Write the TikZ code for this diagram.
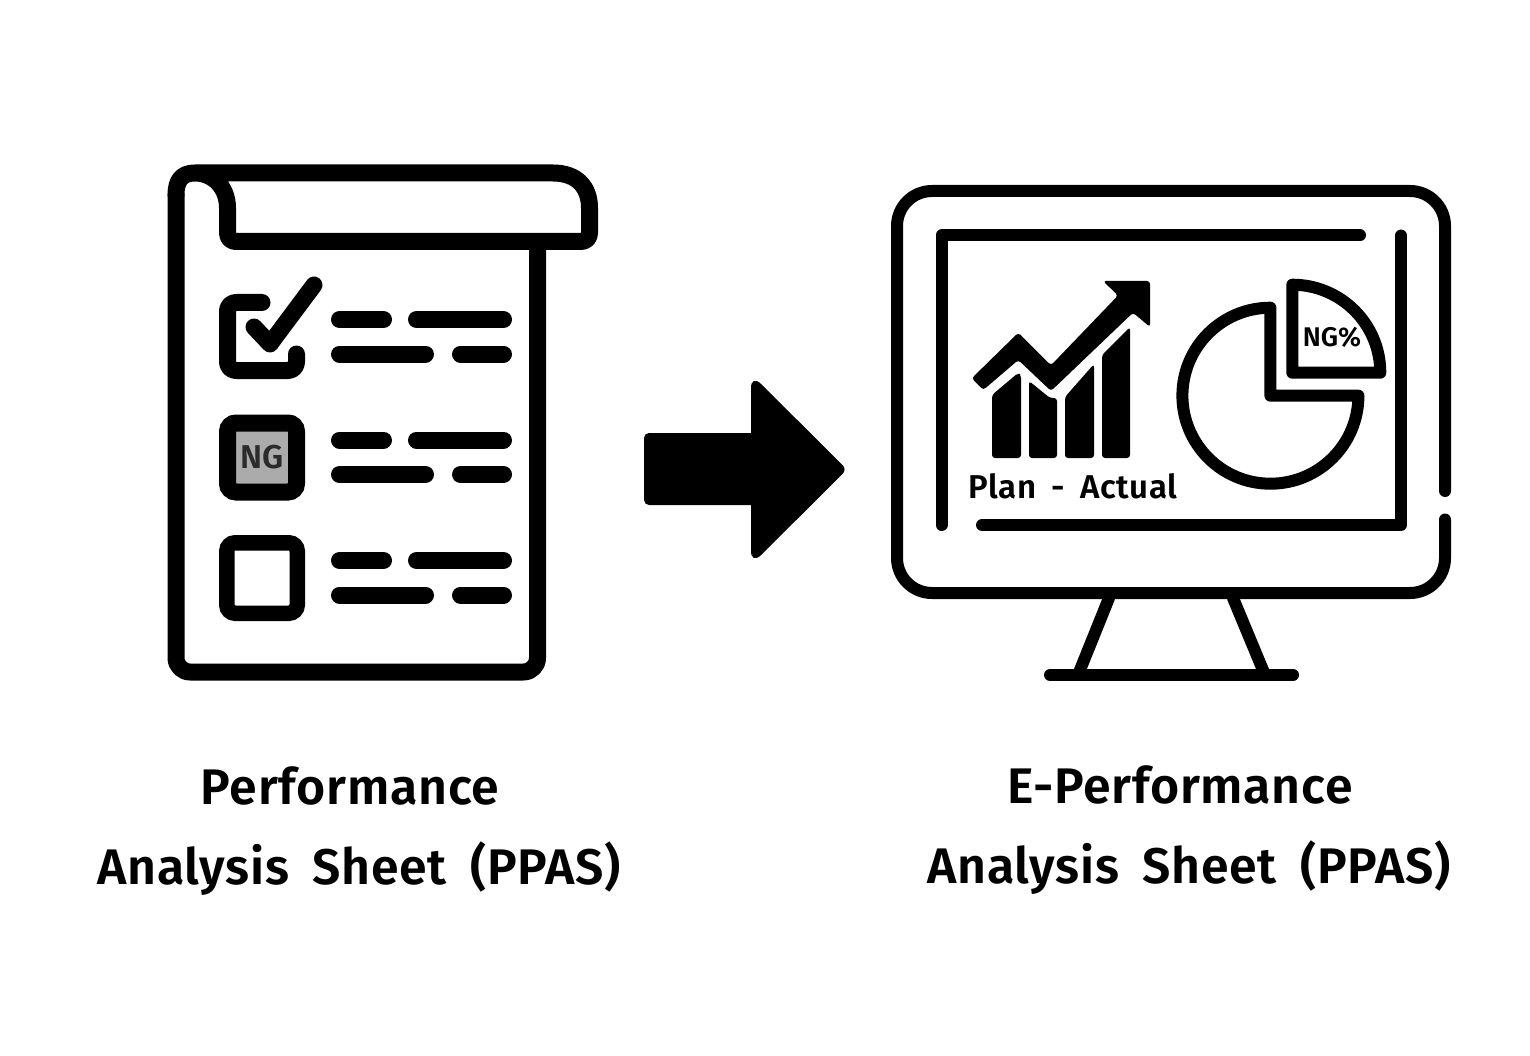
\documentclass[tikz,border=0pt]{standalone}
\usepackage{fontspec}
\setmainfont{Fira Sans SemiBold}[LetterSpace=1.5,WordSpace=1.8]
\newfontfamily\tightfont{Fira Sans SemiBold}
\usetikzlibrary{positioning}
\definecolor{nggrey}{HTML}{ABABAB}
\definecolor{ngtext}{HTML}{2B2B2B}
\tikzset{
  ink/.style={draw=black,line width=#1,line cap=round,line join=round},
  ink/.default=12pt,
  barline/.style={ink=17pt},
  tickbox/.style={draw=black,line width=17pt,rounded corners=8.5pt,minimum size=69pt,inner sep=0pt},
  title/.style={font=\fontsize{50}{50}\selectfont,inner sep=0pt,anchor=base},
  small/.style={font=\fontsize{33}{33}\selectfont,inner sep=0pt,anchor=base}
}
\begin{document}
\begin{tikzpicture}[x=1pt,y=-1pt]
    \useasboundingbox (0,0) rectangle (1530,1056);
    % paper sheet
    \draw[ink=17pt,rounded corners=14pt] (537.5,241.5) -- (537.5,672) -- (176,672) -- (176,195);
    \draw[ink=17pt] (176,195) .. controls (176,180) and (182,173) .. (195,173) -- (553,173)
      .. controls (577,173) and (589.5,187) .. (589.5,208) -- (589.5,233)
      .. controls (589.5,238) and (586,241.5) .. (581,241.5) -- (236,241.5)
      .. controls (231,241.5) and (227.5,238) .. (227.5,233) -- (227.5,208)
      .. controls (227.5,187) and (213,173) .. (195,173);
    % text rows
    \foreach \rowy in {0,120.5,241} {
      \draw[barline] (339.5,319.5+\rowy) -- (383.5,319.5+\rowy);
      \draw[barline] (416.5,319.5+\rowy) -- (503.5,319.5+\rowy);
      \draw[barline] (339.5,354+\rowy) -- (425.5,354+\rowy);
      \draw[barline] (460.5,354+\rowy) -- (503.5,354+\rowy);
    }
    % the three boxes
    \draw[ink=17pt,rounded corners=8.5pt] (262,302.5) -- (227.5,302.5) -- (227.5,370.5) -- (296.5,370.5) -- (296.5,354);
    \draw[ink=17pt] (254,327) -- (270,344) -- (314,285);
    \node[tickbox,fill=nggrey,text=ngtext,font=\fontsize{33}{33}\tightfont] (ngbox) at (262,457.5) {NG};
    \node[tickbox,line width=15.5pt,minimum size=70.5pt] (emptybox) at (262,578) {};
    % big arrow
    \fill (751,433) [rounded corners=14pt] -- (751,374) [rounded corners=6pt] -- (847,469.5)
      [rounded corners=14pt] -- (751,565) [sharp corners] -- (751,505)
      [rounded corners=5pt] -- (644,505) -- (644,433) [sharp corners] -- cycle;
    % monitor
    \draw[ink,rounded corners=35pt] (1445,491) -- (1445,191) -- (897,191) -- (897,593) -- (1445,593) -- (1445,519.5);
    \draw[ink] (1360,235.5) -- (941.5,235.5) -- (941.5,525);
    \draw[ink] (1401,235.5) -- (1401,525) -- (982,525);
    \draw[ink] (1109,598) -- (1078,675);
    \draw[ink] (1233,598) -- (1265,675);
    \draw[ink] (1050,675) -- (1293,675);
    % trend chart
    \fill[rounded corners=3pt] (971.7,378.3) -- (1018.3,332.7) -- (1051,365.3) -- (1118,295.5) -- (1103,281)
      -- (1150,281) -- (1150,327) -- (1133,312.7) -- (1051,391) -- (1018.3,360) -- (983.3,390) -- cycle;
    \fill[rounded corners=3pt] (992,458) -- (992,395) -- (1018,373) -- (1021,375) -- (1021,458) -- cycle;
    \fill[rounded corners=3pt] (1029,458) -- (1029,381) -- (1050,398) -- (1057,398) -- (1057,458) -- cycle;
    \fill[rounded corners=3pt] (1065,458) -- (1065,397) -- (1094,364) -- (1094,458) -- cycle;
    \fill[rounded corners=3pt] (1102,458) -- (1102,355) -- (1130,327) -- (1130,458) -- cycle;
    % pie
    \draw[ink] (1270.4,307.7) arc[start angle=270,end angle=0,radius=88] -- (1270.4,395.7) -- cycle;
    \draw[ink] (1292.3,372.7) -- (1292.3,284.7) arc[start angle=270,end angle=360,radius=88] -- cycle;
    \node[font=\fontsize{27}{27}\tightfont,inner sep=0pt] (ngshare) at (1332,337) {NG\%};
    \node[small] (planlabel) at (1073,498) {Plan - Actual};
    % captions
    \node[title] (leftone) at (350,804) {Performance};
    \node[title] (lefttwo) at (359,884) {Analysis Sheet (PPAS)};
    \node[title] (rightone) at (1180,803) {E-Performance};
    \node[title] (righttwo) at (1189,883) {Analysis Sheet (PPAS)};
\end{tikzpicture}
\end{document}
